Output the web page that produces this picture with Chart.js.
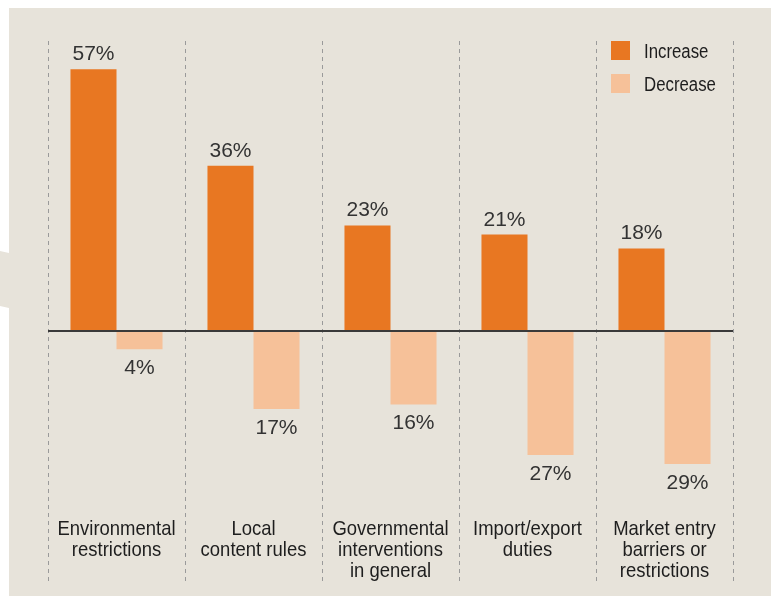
<!DOCTYPE html>
<html lang="en">
<head>
    <meta charset="UTF-8">
    <title>Trade barriers</title>
    <script src="https://cdn.jsdelivr.net/npm/chart.js"></script>
    <style>
        body {
            margin: 0;
            background: #ffffff;
        }
        .panel {
            position: absolute;
            left: 0;
            top: 8px;
            width: 771px;
            height: 588px;
            background: #e7e3da;
            clip-path: polygon(9px 0, 771px 0, 771px 588px, 9px 588px, 9px 300px, 0 298px, 0 243px, 9px 245px);
        }
        .wrap {
            position: absolute;
            left: 0;
            top: 0;
            width: 774px;
            height: 596px;
        }
    </style>
</head>
<body>
    <div class="panel"></div>
    <div class="wrap"><canvas id="barChart" width="774" height="596"></canvas></div>

    <script>
        const categories = [
            ['Environmental', 'restrictions'],
            ['Local', 'content rules'],
            ['Governmental', 'interventions', 'in general'],
            ['Import/export', 'duties'],
            ['Market entry', 'barriers or', 'restrictions']
        ];
        const increase = [57, 36, 23, 21, 18];
        const decrease = [4, 17, 16, 27, 29];
        const seriesNames = ['Increase', 'Decrease'];

        const orange = '#e87722';
        const lightOrange = '#f6c199';
        const sans = '"Liberation Sans", Arial, sans-serif';

        // condensed look: squeeze regular text horizontally
        function narrowText(ctx, text, x, y, squeeze) {
            ctx.save();
            ctx.translate(x, y);
            ctx.scale(squeeze, 1);
            ctx.fillText(text, 0, 0);
            ctx.restore();
        }

        // value labels above/below each bar
        const valueLabels = {
            id: 'valueLabels',
            afterDatasetsDraw(chart) {
                const ctx = chart.ctx;
                ctx.save();
                ctx.font = '21px ' + sans;
                ctx.fillStyle = '#333333';
                ctx.textAlign = 'center';
                ctx.textBaseline = 'alphabetic';
                chart.getDatasetMeta(0).data.forEach((bar, i) => {
                    ctx.fillText(increase[i] + '%', bar.x, bar.y - 9);
                });
                chart.getDatasetMeta(1).data.forEach((bar, i) => {
                    ctx.fillText(decrease[i] + '%', bar.x, bar.y + 25);
                });
                ctx.restore();
            }
        };

        // category names sit inside the plot, near the bottom
        const categoryLabels = {
            id: 'categoryLabels',
            afterDraw(chart) {
                const ctx = chart.ctx;
                const x = chart.scales.x;
                ctx.save();
                ctx.font = '21px ' + sans;
                ctx.fillStyle = '#1e1e1e';
                ctx.textAlign = 'center';
                ctx.textBaseline = 'alphabetic';
                categories.forEach((lines, i) => {
                    lines.forEach((line, j) => {
                        narrowText(ctx, line, x.getPixelForValue(i), 535 + j * 21, 0.88);
                    });
                });
                ctx.restore();
            }
        };

        // legend in the top right corner of the plot
        const cornerLegend = {
            id: 'cornerLegend',
            afterDraw(chart) {
                const ctx = chart.ctx;
                const area = chart.chartArea;
                const left = area.right - 122;
                ctx.save();
                ctx.font = '20px ' + sans;
                ctx.textBaseline = 'alphabetic';
                ctx.textAlign = 'left';
                chart.data.datasets.forEach((ds, i) => {
                    const top = area.top + i * 33;
                    ctx.fillStyle = ds.backgroundColor;
                    ctx.fillRect(left, top, 19, 19);
                    ctx.fillStyle = '#1e1e1e';
                    narrowText(ctx, ds.label, left + 33, top + 16.5, 0.84);
                });
                ctx.restore();
            }
        };

        new Chart(document.getElementById('barChart'), {
            type: 'bar',
            data: {
                labels: categories,
                datasets: [
                    {
                        label: seriesNames[0],
                        data: increase,
                        backgroundColor: orange
                    },
                    {
                        label: seriesNames[1],
                        data: decrease.map(v => -v),
                        backgroundColor: lightOrange
                    }
                ]
            },
            options: {
                responsive: false,
                animation: false,
                layout: {
                    padding: { left: 48, right: 41, top: 41, bottom: 14 }
                },
                datasets: {
                    bar: {
                        categoryPercentage: 0.672,
                        barPercentage: 1.0
                    }
                },
                plugins: {
                    legend: { display: false },
                    tooltip: { enabled: false }
                },
                scales: {
                    x: {
                        ticks: { display: false },
                        border: { display: false, dash: [4, 4] },
                        grid: {
                            offset: true,
                            drawTicks: false,
                            color: '#9a9a9a',
                            lineWidth: 1
                        }
                    },
                    y: {
                        min: -54.68,
                        max: 63.18,
                        z: 1,
                        ticks: { display: false, stepSize: 10 },
                        border: { display: false },
                        grid: {
                            drawTicks: false,
                            lineWidth: 2,
                            color: ctx => ctx.tick && ctx.tick.value === 0 ? '#3a3a3a' : 'rgba(0,0,0,0)'
                        }
                    }
                }
            },
            plugins: [valueLabels, categoryLabels, cornerLegend]
        });
    </script>
</body>
</html>
